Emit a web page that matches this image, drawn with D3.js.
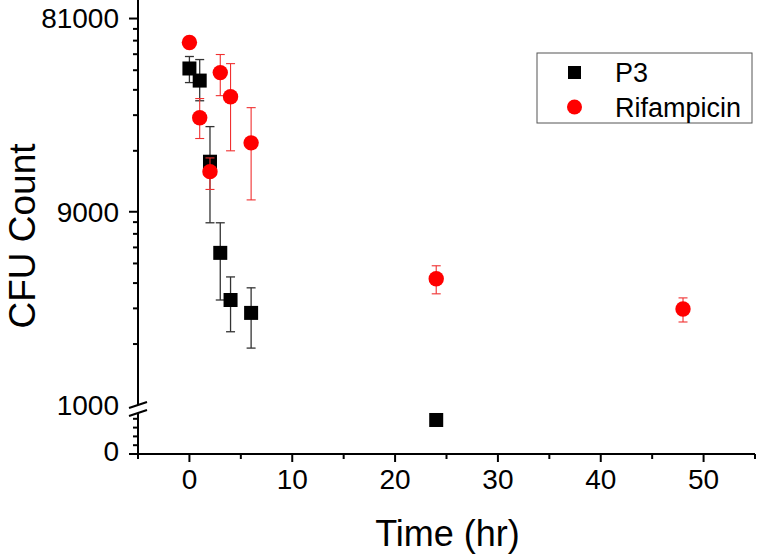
<!DOCTYPE html>
<html>
<head>
<meta charset="utf-8">
<script src="https://cdn.jsdelivr.net/npm/d3@7"></script>
<style>
	body { margin: 0; background: #fff; }
	svg { display: block; font-family: "Liberation Sans", Arial, sans-serif; }
</style>
</head>
<body>
<div id="chart"></div>
<script>
// P3 series
const p3Time = [0, 1, 2, 3, 4, 6, 24];
const p3Mean = [45900, 40000, 15900, 5640, 3300, 2850, 773];
const p3High = [52600, 50800, 23700, 7940, 4290, 3790, null];
const p3Low = [39100, 31800, 7940, 3300, 2300, 1910, null];

// Rifampicin series
const rifTime = [0, 1, 2, 3, 4, 6, 24, 48];
const rifMean = [61700, 26200, 14200, 43800, 33300, 19700, 4200, 2980];
const rifHigh = [null, 32600, 16600, 53800, 48500, 29400, 4870, 3380];
const rifLow = [null, 20700, 11600, 33700, 18000, 10300, 3540, 2570];

// ticks
const xMajor = [0, 10, 20, 30, 40, 50];
const xMinor = [-5, 5, 15, 25, 35, 45, 55];
const yMajorUpper = [9000, 81000];
const yMinorUpper = [2000, 3000, 4000, 5000, 6000, 7000, 8000,
	18000, 27000, 36000, 45000, 54000, 63000, 72000];
const yMinorLower = [200, 400, 600, 800];
const seriesNames = ["P3", "Rifampicin"];

const width = 757, height = 555;
const axisX = 138, axisY = 454;

const svg = d3.select("#chart")
	.append("svg")
	.attr("width", width)
	.attr("height", height);

const x = d3.scaleLinear().domain([-5, 55]).range([axisX, 755]);
const yUp = d3.scaleLog().base(9).domain([1000, 100000]).range([405, 0]);
const yLow = d3.scaleLinear().domain([0, 1000]).range([axisY, 410]);

function y(v) {
	return v >= 1000 ? yUp(v) : yLow(v);
}

// x axis
const xAxis = svg.append("g").attr("transform", `translate(0,${axisY})`);
xAxis.append("line")
	.attr("x1", axisX).attr("x2", 755)
	.attr("stroke", "#000").attr("stroke-width", 2);
xAxis.selectAll(".xmaj")
	.data(xMajor)
	.enter()
	.append("line")
	.attr("x1", (d) => x(d)).attr("x2", (d) => x(d))
	.attr("y1", 0).attr("y2", 8)
	.attr("stroke", "#000").attr("stroke-width", 2);
xAxis.selectAll(".xmin")
	.data(xMinor)
	.enter()
	.append("line")
	.attr("x1", (d) => x(d)).attr("x2", (d) => x(d))
	.attr("y1", 0).attr("y2", 5)
	.attr("stroke", "#000").attr("stroke-width", 2);
xAxis.selectAll("text")
	.data(xMajor)
	.enter()
	.append("text")
	.attr("x", (d) => x(d))
	.attr("y", 35)
	.attr("text-anchor", "middle")
	.attr("font-size", 28)
	.text((d) => d);

// y axis, upper log part and lower linear part
const yAxis = svg.append("g");
yAxis.append("line")
	.attr("x1", axisX).attr("x2", axisX)
	.attr("y1", 0).attr("y2", 405)
	.attr("stroke", "#000").attr("stroke-width", 2);
yAxis.append("line")
	.attr("x1", axisX).attr("x2", axisX)
	.attr("y1", 413).attr("y2", axisY + 1)
	.attr("stroke", "#000").attr("stroke-width", 2);

yAxis.selectAll(".ymaj")
	.data(yMajorUpper)
	.enter()
	.append("line")
	.attr("x1", axisX - 9).attr("x2", axisX)
	.attr("y1", (d) => yUp(d)).attr("y2", (d) => yUp(d))
	.attr("stroke", "#000").attr("stroke-width", 2);
yAxis.selectAll(".ymin")
	.data(yMinorUpper)
	.enter()
	.append("line")
	.attr("x1", axisX - 5).attr("x2", axisX)
	.attr("y1", (d) => yUp(d)).attr("y2", (d) => yUp(d))
	.attr("stroke", "#000").attr("stroke-width", 2);
yAxis.selectAll(".yminlow")
	.data(yMinorLower)
	.enter()
	.append("line")
	.attr("x1", axisX - 5).attr("x2", axisX)
	.attr("y1", (d) => yLow(d)).attr("y2", (d) => yLow(d))
	.attr("stroke", "#000").attr("stroke-width", 2);
yAxis.append("line")
	.attr("x1", axisX - 9).attr("x2", axisX)
	.attr("y1", yLow(0)).attr("y2", yLow(0))
	.attr("stroke", "#000").attr("stroke-width", 2);

// break marks
[405, 413].forEach((by) => {
	yAxis.append("line")
		.attr("x1", axisX - 9).attr("x2", axisX + 9)
		.attr("y1", by + 3).attr("y2", by - 3)
		.attr("stroke", "#000").attr("stroke-width", 2);
});

const yLabels = [
	{ v: 81000, pos: yUp(81000) },
	{ v: 9000, pos: yUp(9000) },
	{ v: 1000, pos: yUp(1000) },
	{ v: 0, pos: yLow(0) - 3 }
];
yAxis.selectAll("text")
	.data(yLabels)
	.enter()
	.append("text")
	.attr("x", axisX - 19)
	.attr("y", (d) => d.pos)
	.attr("dy", "0.35em")
	.attr("text-anchor", "end")
	.attr("font-size", 28)
	.text((d) => d.v);

// axis titles
svg.append("text")
	.attr("x", x(25) + 1)
	.attr("y", 546)
	.attr("text-anchor", "middle")
	.attr("font-size", 36)
	.text("Time (hr)");
svg.append("text")
	.attr("transform", "translate(35,236) rotate(-90)")
	.attr("text-anchor", "middle")
	.attr("font-size", 37)
	.text("CFU Count");

// error bars
function errorBars(times, high, low, color, w) {
	const data = times.map((t, i) => ({ t: t, hi: high[i], lo: low[i] }))
		.filter((d) => d.hi != null);
	const g = svg.append("g").attr("stroke", color).attr("stroke-width", w);
	g.selectAll(".v").data(data).enter().append("line")
		.attr("x1", (d) => x(d.t)).attr("x2", (d) => x(d.t))
		.attr("y1", (d) => y(d.hi)).attr("y2", (d) => y(d.lo));
	g.selectAll(".top").data(data).enter().append("line")
		.attr("x1", (d) => x(d.t) - 4.5).attr("x2", (d) => x(d.t) + 4.5)
		.attr("y1", (d) => y(d.hi)).attr("y2", (d) => y(d.hi));
	g.selectAll(".bot").data(data).enter().append("line")
		.attr("x1", (d) => x(d.t) - 4.5).attr("x2", (d) => x(d.t) + 4.5)
		.attr("y1", (d) => y(d.lo)).attr("y2", (d) => y(d.lo));
}

errorBars(p3Time, p3High, p3Low, "#333", 1.3);
svg.append("g")
	.selectAll("rect")
	.data(p3Time.map((t, i) => [t, p3Mean[i]]))
	.enter()
	.append("rect")
	.attr("x", (d) => x(d[0]) - 7)
	.attr("y", (d) => y(d[1]) - 7)
	.attr("width", 14)
	.attr("height", 14)
	.attr("fill", "#000");

errorBars(rifTime, rifHigh, rifLow, "#f03030", 1.1);
svg.append("g")
	.selectAll("circle")
	.data(rifTime.map((t, i) => [t, rifMean[i]]))
	.enter()
	.append("circle")
	.attr("cx", (d) => x(d[0]))
	.attr("cy", (d) => y(d[1]))
	.attr("r", 7.7)
	.attr("fill", "#ff0000");

// legend
const legend = svg.append("g").attr("transform", "translate(537,53)");
legend.append("rect")
	.attr("width", 215).attr("height", 70)
	.attr("fill", "#fff")
	.attr("stroke", "#555").attr("stroke-width", 1);
legend.append("rect")
	.attr("x", 31).attr("y", 13).attr("width", 13).attr("height", 13)
	.attr("fill", "#000");
legend.append("circle")
	.attr("cx", 37.5).attr("cy", 54).attr("r", 7.5)
	.attr("fill", "#ff0000");
legend.selectAll("text")
	.data(seriesNames)
	.enter()
	.append("text")
	.attr("x", 78)
	.attr("y", (d, i) => 29 + i * 35)
	.attr("font-size", 27)
	.text((d) => d);
</script>
</body>
</html>
